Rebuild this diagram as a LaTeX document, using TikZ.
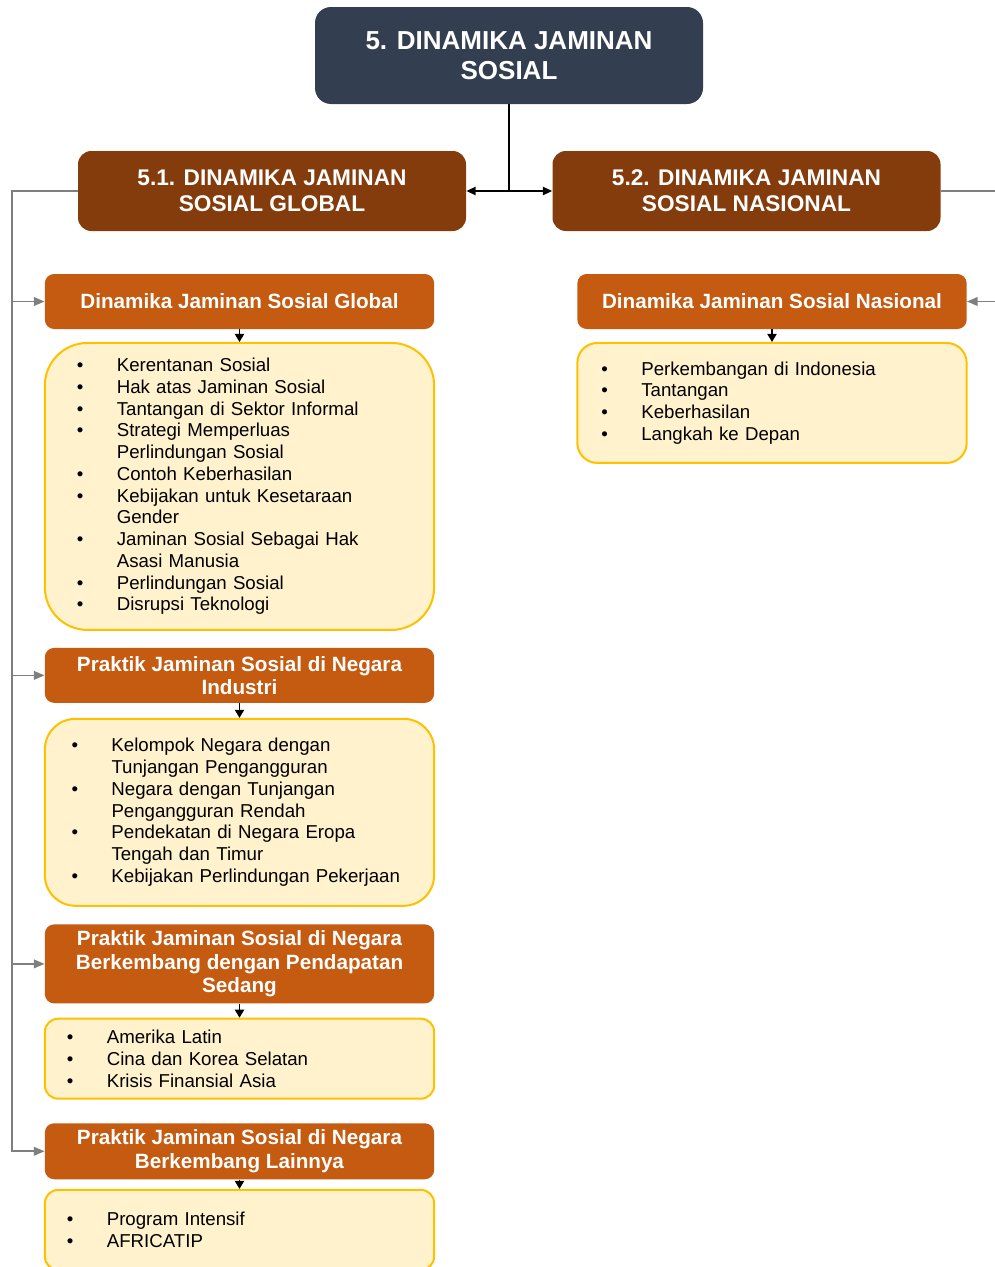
\documentclass[tikz,border=0pt]{standalone}
\usepackage{fontspec}
\setmainfont{Liberation Sans}
\usepackage{xcolor}
\usetikzlibrary{positioning, arrows.meta}

\definecolor{rootc}{HTML}{333F50}
\definecolor{secc}{HTML}{843C0C}
\definecolor{subc}{HTML}{C55A11}
\definecolor{listf}{HTML}{FFF2CC}
\definecolor{listd}{HTML}{FFC000}
\definecolor{linec}{HTML}{7F7F7F}

\newcommand{\bul}{\makebox[30pt][l]{\textbullet}}
\newcommand{\cnt}{\hspace*{30pt}}

\begin{document}
\begin{tikzpicture}[x=0.75pt, y=-0.75pt, node distance=9.5pt,
      Root/.style = {rounded corners=12pt, fill=rootc, text=white,
                     font=\fontsize{19.5}{22.5}\selectfont\bfseries,
                     minimum width=291pt, minimum height=72.75pt, align=center},
      Sec/.style  = {rounded corners=10pt, fill=secc, text=white,
                     font=\fontsize{17}{19.5}\selectfont\bfseries,
                     minimum width=291pt, minimum height=60pt, align=center},
      Sub/.style  = {rounded corners=7pt, fill=subc, text=white, inner sep=0pt,
                     font=\fontsize{15.5}{17.6}\selectfont\bfseries,
                     minimum width=292pt, align=center},
      List/.style = {rounded corners=#1, draw=listd, fill=listf, line width=1.5pt,
                     font=\fontsize{14}{16.3}\selectfont, inner ysep=0pt,
                     minimum width=292pt, align=left},
      blk/.style  = {line width=1.5pt, -{Triangle[length=7pt,width=6pt]}},
      gry/.style  = {draw=linec, line width=1.2pt, -{Triangle[length=8pt,width=6.5pt]}},
      tip/.style  = {line width=0.8pt, -{Triangle[length=6pt,width=7pt]}} ]

\useasboundingbox (0,0) rectangle (995,1267);

% top levels
\node (root) [Root] at (509,55.5) {5. DINAMIKA JAMINAN\\SOSIAL};
\node (glob) [Sec] at (272,191) {5.1. DINAMIKA JAMINAN\\SOSIAL GLOBAL};
\node (nas)  [Sec] at (746.5,191) {5.2. DINAMIKA JAMINAN\\SOSIAL NASIONAL};

% global column
\node (gA) [Sub, minimum height=41.25pt] at (239.5,301.5) {Dinamika Jaminan Sosial Global};
\node (lA) [List=32pt, below=of gA, minimum height=215.25pt,
            inner xsep=24pt, text width=244pt]
{
  \bul Kerentanan Sosial\\
  \bul Hak atas Jaminan Sosial\\
  \bul Tantangan di Sektor Informal\\
  \bul Strategi Memperluas\\
  \cnt Perlindungan Sosial\\
  \bul Contoh Keberhasilan\\
  \bul Kebijakan untuk Kesetaraan\\
  \cnt Gender\\
  \bul Jaminan Sosial Sebagai Hak\\
  \cnt Asasi Manusia\\
  \bul Perlindungan Sosial\\
  \bul Disrupsi Teknologi
};
\node (gB) [Sub, minimum height=41.25pt, below=12.5pt of lA]
  {Praktik Jaminan Sosial di Negara\\Industri};
\node (lB) [List=23pt, below=11pt of gB, minimum height=140.25pt,
            inner xsep=20pt, text width=252pt]
{
  \bul Kelompok Negara dengan\\
  \cnt Tunjangan Pengangguran\\
  \bul Negara dengan Tunjangan\\
  \cnt Pengangguran Rendah\\
  \bul Pendekatan di Negara Eropa\\
  \cnt Tengah dan Timur\\
  \bul Kebijakan Perlindungan Pekerjaan
};
\node (gC) [Sub, minimum height=59.25pt, below=13pt of lB]
  {Praktik Jaminan Sosial di Negara\\Berkembang dengan Pendapatan\\Sedang};
\node (lC) [List=10pt, below=10.5pt of gC, minimum height=60pt,
            inner xsep=16.5pt, text width=259pt]
{
  \bul Amerika Latin\\
  \bul Cina dan Korea Selatan\\
  \bul Krisis Finansial Asia
};
\node (gD) [Sub, minimum height=42pt, below=17.5pt of lC]
  {Praktik Jaminan Sosial di Negara\\Berkembang Lainnya};
\node (lD) [List=10pt, below=7pt of gD, minimum height=60pt,
            inner xsep=16.5pt, text width=259pt]
{
  \bul Program Intensif\\
  \bul AFRICATIP
};

% national column
\node (nA) [Sub, minimum height=41.25pt] at (772,301.5) {Dinamika Jaminan Sosial Nasional};
\node (lN) [List=15pt, below=of nA, minimum height=90pt,
            inner xsep=18pt, text width=256pt]
{
  \bul Perkembangan di Indonesia\\
  \bul Tantangan\\
  \bul Keberhasilan\\
  \bul Langkah ke Depan
};

% connectors
\draw[blk] (root.south) |- (glob.east);
\draw[blk] (root.south) |- (nas.west);

\coordinate (lspine) at (12,191);
\coordinate (rspine) at (1000,191);
\foreach \g in {gA,gB,gC,gD}
  \draw[gry] (glob.west) -- (lspine) |- (\g.west);
\draw[gry] (nas.east) -- (rspine) |- (nA.east);

\foreach \a/\b in {gA/lA,gB/lB,gC/lC,gD/lD,nA/lN}
  \draw[tip] (\a.south) -- (\b.north);
\end{tikzpicture}
\end{document}
